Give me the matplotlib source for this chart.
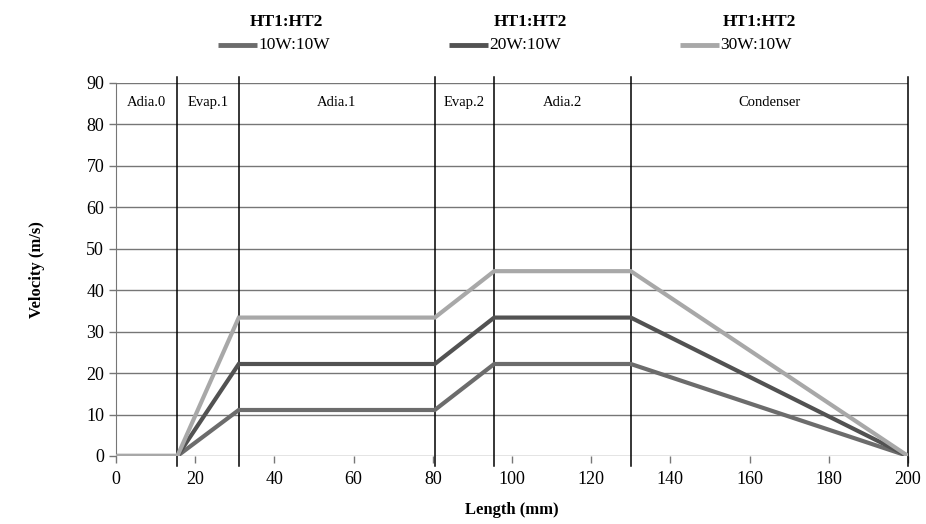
import matplotlib
matplotlib.use("Agg")
import matplotlib.pyplot as plt
from matplotlib.lines import Line2D

plt.rcParams['font.family'] = ['Liberation Serif', 'DejaVu Serif']

# Data
length_mm = [0, 15.5, 31, 80.5, 95.5, 130, 200]
vel_10w = [0, 0, 11.1, 11.1, 22.2, 22.2, 0]
vel_20w = [0, 0, 22.2, 22.2, 33.4, 33.4, 0]
vel_30w = [0, 0, 33.4, 33.4, 44.6, 44.6, 0]
series_labels = ["10W:10W", "20W:10W", "30W:10W"]
header = "HT1:HT2"
section_bounds = [0, 15.5, 31, 80.5, 95.5, 130, 200]
section_names = ["Adia.0", "Evap.1", "Adia.1", "Evap.2", "Adia.2", "Condenser"]

colors = ["#6c6c6c", "#525252", "#a8a8a8"]

fig = plt.figure(figsize=(9.26, 5.24), dpi=100)
ax = fig.add_axes([116/926, 1-456/524, (908-116)/926, (456-83)/524])

ax.set_xlim(0, 200)
ax.set_ylim(0, 90)
ax.set_yticks(range(0, 91, 10))
ax.set_xticks(range(0, 201, 20))
ax.grid(axis='y', color='#767676', linewidth=1.0)
ax.set_axisbelow(True)
for s in ['top', 'right', 'bottom']:
    ax.spines[s].set_visible(False)
ax.spines['left'].set_color('#767676')
ax.tick_params(axis='both', direction='out', length=5, color='#767676',
               labelsize=13, width=1)
ax.tick_params(axis='x', pad=6)

# section lines
for b in section_bounds[1:]:
    ax.axvline(b, ymin=-0.028, ymax=1.016, color='black', linewidth=1.1,
               clip_on=False, zorder=1)

for i, name in enumerate(section_names):
    xc = (section_bounds[i] + section_bounds[i+1]) / 2
    ax.text(xc, 85.3, name, ha='center', va='center', fontsize=10.5)

handles = []
for vals, c in zip([vel_10w, vel_20w, vel_30w], colors):
    h, = ax.plot(length_mm, vals, color=c, linewidth=3, solid_joinstyle='miter', zorder=3)
    handles.append(h)

ax.set_xlabel("Length (mm)", fontsize=12, fontweight='bold', labelpad=10)
ax.set_ylabel("Velocity (m/s)", fontsize=12, fontweight='bold', labelpad=30)

# legend entries and headers
header_x = [286, 530, 759]
handle_x = [218, 449, 680]
for hx, cx, lab, c in zip(handle_x, header_x, series_labels, colors):
    fig.text(cx/926, 1-22/524, header, ha='center', va='center',
             fontsize=12.5, fontweight='bold')
    fig.add_artist(Line2D([hx/926, (hx+39)/926], [1-45/524, 1-45/524],
                          color=c, linewidth=3.5, solid_capstyle='butt'))
    fig.text((hx+40)/926, 1-45/524, lab, ha='left', va='center', fontsize=12.5)

fig.savefig("out.png", dpi=100)
